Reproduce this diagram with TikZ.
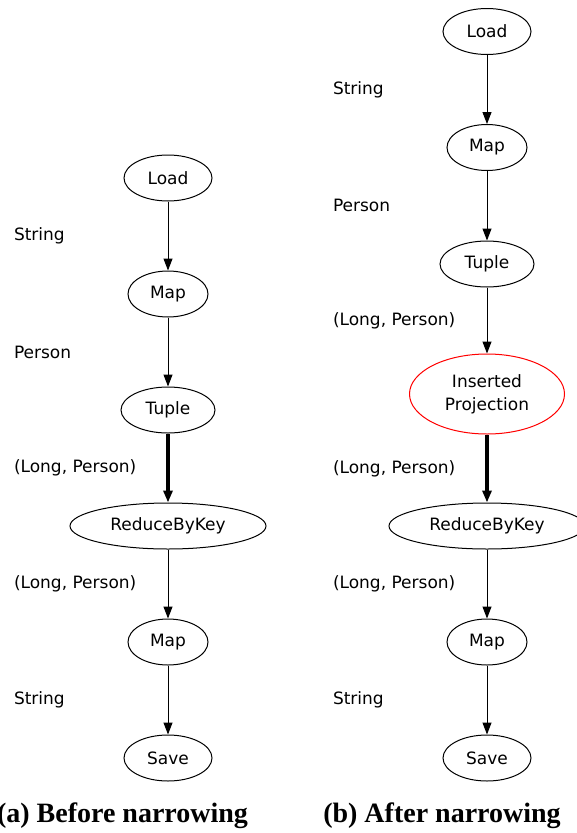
\documentclass[tikz,border=0pt]{standalone}
\usepackage{fontspec}
\newfontfamily\dejavu{DejaVu Sans}
\newfontfamily\capfont{Liberation Serif}
\usetikzlibrary{positioning, arrows.meta, shapes.geometric}

\begin{document}
\begin{tikzpicture}[
        x=1pt, y=-1pt, on grid,
        every node/.style={font=\dejavu\fontsize{17}{23}\selectfont},
        op/.style={draw, ellipse, inner sep=0pt, minimum width=80pt, minimum height=46pt, line width=1pt},
        narrow/.style={op, draw=red, align=center, minimum width=155pt, minimum height=80pt},
        flow/.style={-{Triangle[length=12pt, width=9pt]}, line width=1pt},
        hot/.style={flow, line width=3.5pt},
        typelabel/.style={anchor=west, xshift=-154pt, inner sep=0pt, outer sep=0pt},
        subcap/.style={anchor=base, inner sep=0pt, font=\capfont\bfseries\fontsize{28}{32}\selectfont}
    ]
    \useasboundingbox (0,0) rectangle (576,833);

    % Nodes (a)
    \node[op, minimum width=88pt] (loadA) at (168,178) {Load};
    \node[op, below=116pt of loadA] (mapA) {Map};
    \node[op, minimum width=94pt, below=116pt of mapA] (tupleA) {Tuple};
    \node[op, minimum width=196pt, below=116pt of tupleA] (reduceA) {ReduceByKey};
    \node[op, below=116pt of reduceA] (mapA2) {Map};
    \node[op, minimum width=88pt, below=116pt of mapA2] (saveA) {Save};

    % Nodes (b)
    \node[op, minimum width=88pt] (loadB) at (487,31.5) {Load};
    \node[op, below=116pt of loadB] (mapB) {Map};
    \node[op, minimum width=94pt, below=116.5pt of mapB] (tupleB) {Tuple};
    \node[narrow, below=130pt of tupleB] (projB) {Inserted\\Projection};
    \node[op, minimum width=196pt, below=132pt of projB] (reduceB) {ReduceByKey};
    \node[op, below=116pt of reduceB] (mapB2) {Map};
    \node[op, minimum width=88pt, below=116pt of mapB2] (saveB) {Save};

    % Arrows (a)
    \draw[flow] (loadA) -- node[typelabel] (tA1) {String} (mapA);
    \draw[flow] (mapA) -- node[typelabel] (tA2) {Person} (tupleA);
    \draw[hot] (tupleA) -- node[typelabel] (tA3) {(Long, Person)} (reduceA);
    \draw[flow] (reduceA) -- node[typelabel] (tA4) {(Long, Person)} (mapA2);
    \draw[flow] (mapA2) -- node[typelabel] (tA5) {String} (saveA);

    % Arrows (b)
    \draw[flow] (loadB) -- node[typelabel] (tB1) {String} (mapB);
    \draw[flow] (mapB) -- node[typelabel] (tB2) {Person} (tupleB);
    \draw[flow] (tupleB) -- node[typelabel] (tB3) {(Long, Person)} (projB);
    \draw[hot] (projB) -- node[typelabel] (tB4) {(Long, Person)} (reduceB);
    \draw[flow] (reduceB) -- node[typelabel] (tB5) {(Long, Person)} (mapB2);
    \draw[flow] (mapB2) -- node[typelabel] (tB6) {String} (saveB);

    % Captions
    \node[subcap] (capA) at (122.5,822.7) {(a) Before narrowing};
    \node[subcap] (capB) at (442,822.7) {(b) After narrowing};
\end{tikzpicture}
\end{document}
